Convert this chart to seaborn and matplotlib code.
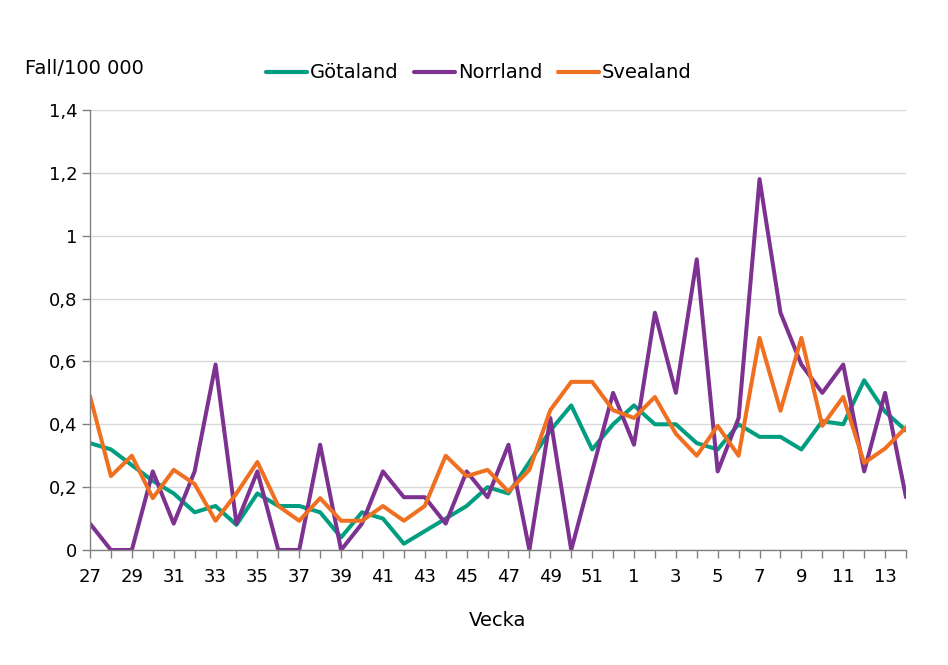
import pandas as pd
import matplotlib
matplotlib.use("Agg")
import matplotlib.pyplot as plt
import seaborn as sns

# Weeks 27-52 and then 1-14
weeks = list(range(27, 53)) + list(range(1, 15))

gotaland = [0.34, 0.32, 0.27, 0.22, 0.18, 0.12, 0.14, 0.08, 0.18, 0.14, 0.14, 0.12, 0.04,
            0.12, 0.10, 0.02, 0.06, 0.10, 0.14, 0.20, 0.18, 0.28, 0.38, 0.46, 0.32, 0.40,
            0.46, 0.40, 0.40, 0.34, 0.32, 0.40, 0.36, 0.36, 0.32, 0.41, 0.40, 0.54, 0.44, 0.38]
norrland = [0.084, 0, 0, 0.25, 0.084, 0.25, 0.59, 0.084, 0.25, 0, 0, 0.335, 0,
            0.084, 0.25, 0.168, 0.168, 0.084, 0.25, 0.168, 0.335, 0, 0.42, 0, 0.25, 0.50,
            0.335, 0.755, 0.50, 0.925, 0.25, 0.42, 1.18, 0.755, 0.59, 0.50, 0.59, 0.25, 0.50, 0.168]
svealand = [0.49, 0.235, 0.30, 0.165, 0.255, 0.21, 0.093, 0.18, 0.28, 0.14, 0.093, 0.165, 0.093,
            0.093, 0.14, 0.093, 0.14, 0.30, 0.235, 0.255, 0.186, 0.255, 0.445, 0.535, 0.535, 0.445,
            0.42, 0.487, 0.37, 0.30, 0.395, 0.30, 0.675, 0.443, 0.675, 0.395, 0.487, 0.277, 0.323, 0.39]

regions = ["Götaland", "Norrland", "Svealand"]
colors = ["#009E80", "#7D3291", "#F07022"]

idx = list(range(len(weeks)))
df = pd.concat([
    pd.DataFrame({"idx": idx, "value": vals, "region": name})
    for name, vals in zip(regions, [gotaland, norrland, svealand])
])

sns.set_style("white")
plt.rcParams["font.family"] = ["DejaVu Sans"]
plt.rcParams["text.color"] = "black"
plt.rcParams["axes.labelcolor"] = "black"

fig = plt.figure(figsize=(9.48, 6.65), dpi=100)
ax = fig.add_axes([90 / 948, 115 / 665, 816 / 948, 440 / 665])

sns.lineplot(data=df, x="idx", y="value", hue="region", hue_order=regions,
             palette=colors, linewidth=2.9, ax=ax)

ax.set_xlim(0, len(weeks) - 1)
ax.set_ylim(0, 1.4)

yt = [0, 0.2, 0.4, 0.6, 0.8, 1.0, 1.2, 1.4]
ax.set_yticks(yt)
ax.set_yticklabels([f"{v:g}".replace(".", ",") for v in yt])
ax.set_xticks(idx)
ax.set_xticklabels([str(w) if i % 2 == 0 else "" for i, w in enumerate(weeks)])

ax.yaxis.grid(True, color="#D9D9D9", linewidth=1)
ax.set_axisbelow(True)
for s in ["top", "right"]:
    ax.spines[s].set_visible(False)
for s in ["left", "bottom"]:
    ax.spines[s].set_color("#808080")
    ax.spines[s].set_linewidth(1)

ax.tick_params(axis="both", which="both", direction="out", length=6, width=1,
               color="#808080", labelsize=13, labelcolor="black")
ax.tick_params(axis="y", pad=3)
ax.tick_params(axis="x", pad=7)
ax.tick_params(left=True, bottom=True)

ax.set_xlabel("Vecka", fontsize=14, labelpad=18)
ax.set_ylabel("")
fig.text(25 / 948, 1 - 68 / 665, "Fall/100 000", fontsize=14, va="center", ha="left")

leg = ax.legend(loc="center", bbox_to_anchor=(479 / 948, 1 - 73 / 665),
                bbox_transform=fig.transFigure, ncol=3, frameon=False,
                fontsize=14, handlelength=2.1, handletextpad=0.15, columnspacing=0.8)
for line in leg.get_lines():
    line.set_linewidth(3)

fig.savefig("out.png", dpi=100)
